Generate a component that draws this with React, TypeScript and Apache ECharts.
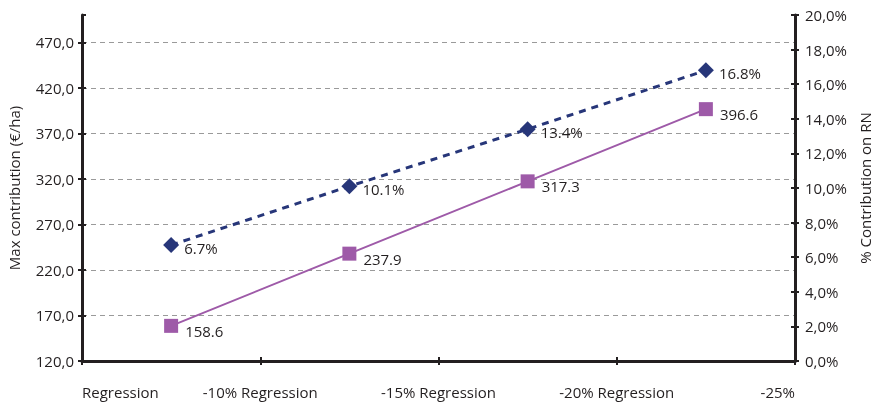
import React, { useEffect, useRef } from "react";
import * as echarts from "echarts";

const categories = ["1", "2", "3", "4"];
const tickLabels = ["Regression", "-10% Regression", "-15% Regression", "-20% Regression", "-25%"];
const maxContribution = [158.6, 237.9, 317.3, 396.6];
const pctContribution = [6.7, 10.1, 13.4, 16.8];

const FONT = "Open Sans";
const INK = "#231F20";

export default function App() {
  const ref = useRef<HTMLDivElement>(null);
  useEffect(() => {
    if (!ref.current) return;
    const chart = echarts.init(ref.current, null, { renderer: "svg" });
    const axisLine = { show: true, lineStyle: { color: INK, width: 3 } };
    const tickStyle = { color: INK, width: 2 };
    chart.setOption({
      animation: false,
      textStyle: { fontFamily: FONT },
      grid: {
        left: 82,
        right: 82,
        top: 15,
        bottom: 41,
        containLabel: false,
        outerBoundsMode: "none",
      },
      xAxis: [
        {
          type: "category",
          data: categories,
          boundaryGap: true,
          position: "bottom",
          axisLine,
          axisTick: { show: true, inside: false, length: 4, lineStyle: tickStyle },
          axisLabel: { show: false },
          splitLine: { show: false },
          z: 3,
        },
        {
          type: "category",
          data: tickLabels,
          boundaryGap: false,
          position: "bottom",
          axisLine: { show: false },
          axisTick: { show: true, inside: true, length: 4, lineStyle: tickStyle },
          axisLabel: {
            show: true,
            color: INK,
            fontSize: 15,
            fontFamily: FONT,
            margin: 23,
            interval: 0,
            alignMinLabel: "left",
            alignMaxLabel: "right",
          },
          splitLine: { show: false },
        },
      ],
      yAxis: [
        {
          type: "value",
          min: 120,
          max: 500,
          interval: 50,
          position: "left",
          name: "Max contribution (€/ha)",
          nameLocation: "middle",
          nameRotate: 90,
          nameGap: 61,
          nameTextStyle: { color: INK, fontSize: 15, fontFamily: FONT },
          axisLine,
          axisTick: { show: true, inside: false, length: 4, lineStyle: tickStyle },
          axisLabel: {
            color: INK,
            fontSize: 15,
            fontFamily: FONT,
            margin: 8,
            showMaxLabel: false,
            formatter: (v: number) => v.toFixed(1).replace(".", ","),
          },
          splitLine: {
            show: true,
            showMinLine: false,
            showMaxLine: false,
            lineStyle: { color: "#9a9a9a", type: [5, 4], width: 1 },
          },
        },
        {
          type: "value",
          min: 0,
          max: 20,
          interval: 2,
          position: "right",
          name: "% Contribution on RN",
          nameLocation: "middle",
          nameRotate: 90,
          nameGap: 61,
          nameTextStyle: { color: INK, fontSize: 15, fontFamily: FONT },
          axisLine,
          axisTick: { show: true, inside: false, length: 4, lineStyle: tickStyle },
          axisLabel: {
            color: INK,
            fontSize: 15,
            fontFamily: FONT,
            margin: 10,
            formatter: (v: number) => v.toFixed(1).replace(".", ",") + "%",
          },
          splitLine: { show: false },
        },
        {
          type: "value",
          min: 120,
          max: 500,
          interval: 50,
          position: "left",
          axisLine: { show: false },
          axisTick: { show: true, inside: true, length: 4, lineStyle: tickStyle },
          axisLabel: { show: false },
          splitLine: { show: false },
        },
        {
          type: "value",
          min: 0,
          max: 20,
          interval: 2,
          position: "right",
          axisLine: { show: false },
          axisTick: { show: true, inside: true, length: 4, lineStyle: tickStyle },
          axisLabel: { show: false },
          splitLine: { show: false },
        },
      ],
      series: [
        {
          name: "Max contribution",
          type: "line",
          xAxisIndex: 0,
          yAxisIndex: 0,
          data: maxContribution,
          symbol: "rect",
          symbolSize: 14,
          lineStyle: { color: "#9E5AA8", width: 2 },
          itemStyle: { color: "#9E5AA8" },
          label: {
            show: true,
            position: "right",
            offset: [2, 5],
            color: INK,
            fontSize: 15,
            fontFamily: FONT,
            formatter: (p: any) => p.value.toFixed(1),
          },
          z: 4,
        },
        {
          name: "% Contribution",
          type: "line",
          xAxisIndex: 0,
          yAxisIndex: 1,
          data: pctContribution,
          symbol: "diamond",
          symbolSize: 16,
          lineStyle: { color: "#273679", width: 3, type: [7, 6] },
          itemStyle: { color: "#273679" },
          label: {
            show: true,
            position: "right",
            offset: [0, 3],
            color: INK,
            fontSize: 15,
            fontFamily: FONT,
            formatter: (p: any) => p.value.toFixed(1) + "%",
          },
          z: 4,
        },
      ],
    });
    return () => chart.dispose();
  }, []);
  return (
    <div
      ref={ref}
      style={{ position: "fixed", left: 0, top: 0, width: 877, height: 402 }}
    />
  );
}
